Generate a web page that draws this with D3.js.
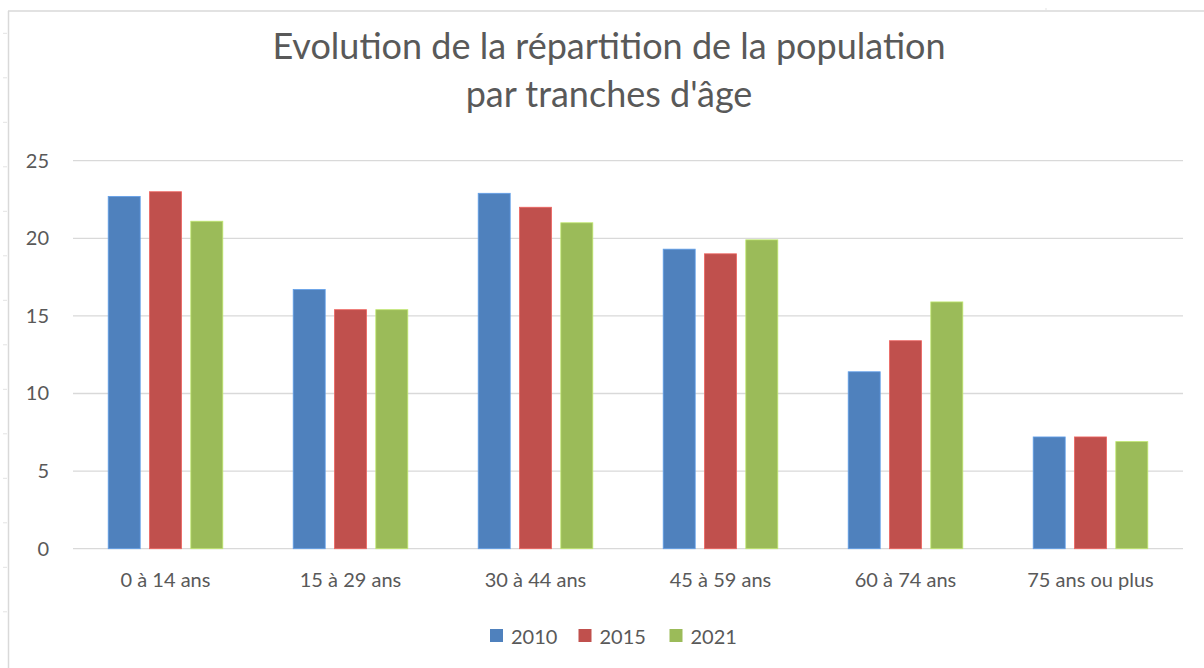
<!DOCTYPE html>
<html><head><meta charset="utf-8">
<script src="https://cdn.jsdelivr.net/npm/d3@7"></script>
<style>
html,body{margin:0;padding:0;background:#fff;}
svg{display:block;font-family:Lato,"Open Sans",sans-serif;}
</style></head>
<body><svg id="chart" width="1204" height="668"></svg>
<script>
const titleLines = ["Evolution de la répartition de la population", "par tranches d'âge"];
const categories = ["0 à 14 ans", "15 à 29 ans", "30 à 44 ans", "45 à 59 ans", "60 à 74 ans", "75 ans ou plus"];
const seriesNames = ["2010", "2015", "2021"];
const values2010 = [22.7, 16.7, 22.9, 19.3, 11.4, 7.2];
const values2015 = [23.0, 15.4, 22.0, 19.0, 13.4, 7.2];
const values2021 = [21.1, 15.4, 21.0, 19.9, 15.9, 6.9];
const yTicks = [0, 5, 10, 15, 20, 25];
const colors = ["#4F81BD", "#C0504D", "#9BBB59"];

const seriesValues = [values2010, values2015, values2021];
const svg = d3.select("#chart");
const W = 1204, H = 668;
const plot = {left: 73, right: 1183, top: 160.7, bottom: 548.7};
const textColor = "#595959";
const lineColor = "#d9d9d9";

// Background spreadsheet decorations (chart frame and row lines)
svg.append("line").attr("x1", 8.5).attr("x2", 8.5).attr("y1", 11).attr("y2", H).attr("stroke", lineColor).attr("stroke-width", 1.5);
svg.append("line").attr("x1", 8).attr("x2", W).attr("y1", 11).attr("y2", 11).attr("stroke", lineColor).attr("stroke-width", 1.5);
const rowMarks = d3.range(0, 14).map(i => 33.3 + i * 44.5).filter(y => y < H);
svg.selectAll("line.row").data(rowMarks).join("line").attr("class", "row")
  .attr("x1", 3).attr("x2", 7).attr("y1", d => d).attr("y2", d => d)
  .attr("stroke", "#e3e3e3").attr("stroke-width", 1);
svg.append("line").attr("x1", 1046).attr("x2", 1046).attr("y1", 8).attr("y2", 10).attr("stroke", "#e3e3e3");

// Scales
const x0 = d3.scaleBand().domain(categories).range([plot.left, plot.right]).paddingInner(0).paddingOuter(0);
const x1 = d3.scaleBand().domain(seriesNames).range([0, x0.bandwidth()]).paddingInner(0.225).paddingOuter(0.852);
const y = d3.scaleLinear().domain([0, 25]).range([plot.bottom, plot.top]);

// Gridlines
svg.append("g").selectAll("line").data(yTicks).join("line")
  .attr("x1", plot.left).attr("x2", plot.right)
  .attr("y1", d => y(d)).attr("y2", d => y(d))
  .attr("stroke", lineColor).attr("stroke-width", 1.3);

// Y axis labels
const yAxis = d3.axisLeft(y).tickValues(yTicks).tickSize(0).tickPadding(0);
const gy = svg.append("g").attr("transform", `translate(49,0)`).call(yAxis);
gy.select(".domain").remove();
gy.selectAll("text").attr("fill", textColor).attr("font-size", 20).attr("font-family", "Lato, sans-serif");

// X axis labels
const xAxis = d3.axisBottom(x0).tickSize(0).tickPadding(0);
const gx = svg.append("g").attr("transform", `translate(0,${plot.bottom})`).call(xAxis);
gx.select(".domain").remove();
gx.selectAll("text").attr("fill", textColor).attr("font-size", 20).attr("font-family", "Lato, sans-serif")
  .attr("dy", null).attr("y", 38);

// Bars
const groups = svg.append("g").selectAll("g").data(categories).join("g")
  .attr("transform", d => `translate(${x0(d)},0)`);
groups.selectAll("rect").data((d, i) => seriesNames.map((s, j) => ({s, j, v: seriesValues[j][i]})))
  .join("rect")
  .attr("x", d => x1(d.s)).attr("width", x1.bandwidth())
  .attr("y", d => y(d.v)).attr("height", d => y(0) - y(d.v))
  .attr("fill", d => colors[d.j])
  .attr("stroke", d => d3.color(colors[d.j]).brighter(0.6)).attr("stroke-width", 0.8);

// Title
const title = svg.append("text").attr("text-anchor", "middle").attr("fill", textColor)
  .attr("font-family", "Lato, sans-serif").attr("font-size", 36);
title.selectAll("tspan").data(titleLines).join("tspan")
  .attr("x", 609).attr("y", (d, i) => 59 + i * 48).text(d => d);

// Legend
const legendX = [490, 578.5, 669.5];
const legend = svg.append("g").selectAll("g").data(seriesNames).join("g")
  .attr("transform", (d, i) => `translate(${legendX[i]},629)`);
legend.append("rect").attr("width", 13).attr("height", 13).attr("fill", (d, i) => colors[i]);
legend.append("text").attr("x", 21).attr("y", 15).attr("fill", textColor)
  .attr("font-family", "Lato, sans-serif").attr("font-size", 20).text(d => d);
</script></body></html>
